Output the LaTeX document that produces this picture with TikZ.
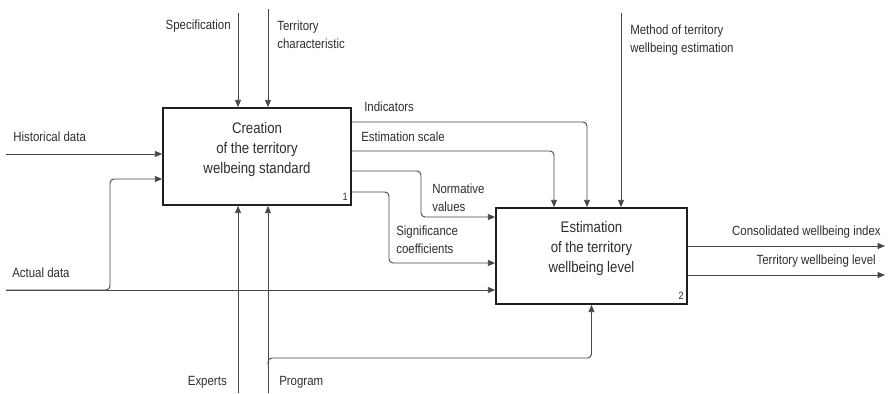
\documentclass[tikz,border=0pt]{standalone}
\usepackage{fontspec}
\setmainfont[FakeStretch=0.86]{Liberation Sans}
\usetikzlibrary{arrows.meta,positioning}

\begin{document}
\begin{tikzpicture}[x=0.75pt, y=-0.75pt,
    flow/.style={draw=black!72, line width=0.7pt, -{Triangle[length=5.5pt, width=4.5pt]}},
    fnbox/.style={draw=black!88, line width=1.3pt, inner sep=0pt},
    boxtext/.style={align=center, inner sep=0pt, text=black!82, font=\fontsize{11.5}{15}\selectfont},
    lbl/.style={align=left, inner sep=0pt, text=black!82, font=\fontsize{10}{13.5}\selectfont},
    boxnum/.style={inner sep=0pt, text=black!82, font=\fontsize{8}{9}\selectfont}]
      \useasboundingbox (0,0) rectangle (891,393);

      \node[fnbox, minimum width=141pt, minimum height=72.75pt] (creation) at (257,156.5) {};
      \node[fnbox, minimum width=143.25pt, minimum height=72pt] (estimation) at (591.5,256) {};

      \node[boxtext] (creationtext) at ([yshift=5pt]creation.center) {Creation\\of the territory\\welbeing standard};
      \node[boxtext] (estimationtext) at ([yshift=5.25pt]estimation.center) {Estimation\\of the territory\\wellbeing level};
      \node[boxnum, anchor=south east] (creationnum) at ([xshift=-3pt, yshift=4pt]creation.south east) {1};
      \node[boxnum, anchor=south east] (estimationnum) at ([xshift=-3pt, yshift=4pt]estimation.south east) {2};

      \coordinate (hist) at (6,154);
      \coordinate (actual) at (6,290);
      \coordinate (actualup) at (110,179);
      \coordinate (spec) at (238,13);
      \coordinate (terr) at (268,9);
      \coordinate (experts) at (238,393);
      \coordinate (program) at (268,393);
      \coordinate (progturn) at (268,358);
      \coordinate (method) at (621,13);
      \coordinate (ind) at (587,122);
      \coordinate (scale) at (554,151);
      \coordinate (normA) at (421,171);
      \coordinate (normB) at (421,217);
      \coordinate (sigA) at (389,192);
      \coordinate (sigB) at (389,263);
      \coordinate (consol) at (885,246);
      \coordinate (level) at (885,275);

      \draw[flow] (hist) -- (hist -| creation.west);
      \draw[flow] (actual) -- (actual -| estimation.west);
      \draw[flow, rounded corners=3pt] (actual) -| (actualup) -- (actualup -| creation.west);

      \draw[flow] (spec) -- (spec |- creation.north);
      \draw[flow] (terr) -- (terr |- creation.north);
      \draw[flow] (experts) -- (experts |- creation.south);
      \draw[flow] (program) -- (program |- creation.south);
      \draw[flow, rounded corners=3pt] ([yshift=-5pt]progturn) -- (progturn) -| (estimation.south);

      \draw[flow, rounded corners=3pt] (creation.east |- ind) -| (ind |- estimation.north);
      \draw[flow, rounded corners=3pt] (creation.east |- scale) -| (scale |- estimation.north);
      \draw[flow, rounded corners=3pt] (creation.east |- normA) -| (normB) -- (normB -| estimation.west);
      \draw[flow, rounded corners=3pt] (creation.east |- sigA) -| (sigB) -- (sigB -| estimation.west);
      \draw[flow] (method) -- (method |- estimation.north);

      \draw[flow] (estimation.east |- consol) -- (consol);
      \draw[flow] (estimation.east |- level) -- (level);

      \node[lbl, anchor=west] (histlabel) at (13,137) {Historical data};
      \node[lbl, anchor=west] (actuallabel) at (12,273) {Actual data};
      \node[lbl, anchor=east] (speclabel) at (231,26) {Specification};
      \node[lbl, anchor=west] (terrlabel) at (277,35) {Territory\\characteristic};
      \node[lbl, anchor=east] (expertslabel) at (227,382) {Experts};
      \node[lbl, anchor=west] (programlabel) at (279,382) {Program};
      \node[lbl, anchor=west] (indlabel) at (364,107) {Indicators};
      \node[lbl, anchor=west] (scalelabel) at (361,137) {Estimation scale};
      \node[lbl, anchor=west] (normlabel) at (432,198) {Normative\\values};
      \node[lbl, anchor=west] (siglabel) at (396,240) {Significance\\coefficients};
      \node[lbl, anchor=west] (methodlabel) at (630,40) {Method of territory\\wellbeing estimation};
      \node[lbl, anchor=east] (consollabel) at (881,232) {Consolidated wellbeing index};
      \node[lbl, anchor=east] (levellabel) at (876,261) {Territory wellbeing level};
\end{tikzpicture}
\end{document}
